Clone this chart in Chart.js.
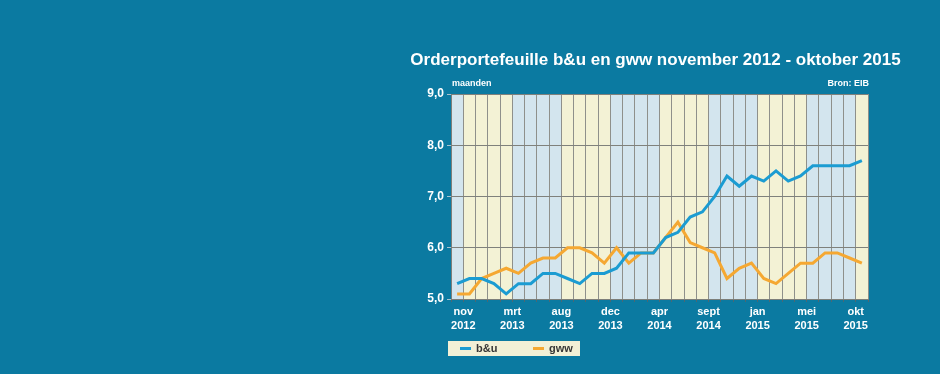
<!DOCTYPE html>
<html>
<head>
<meta charset="utf-8">
<title>Orderportefeuille b&amp;u en gww</title>
<script src="https://cdn.jsdelivr.net/npm/chart.js@4.4.1/dist/chart.umd.min.js"></script>
<style>
  html, body { margin: 0; padding: 0; background: #0b7aa1; }
  #wrap { width: 940px; height: 374px; position: relative; }
</style>
</head>
<body>
<div id="wrap"><canvas id="orderChart"></canvas></div>
<script>
const titleText = 'Orderportefeuille b&u en gww november 2012 - oktober 2015';
const unitText = 'maanden';
const sourceText = 'Bron: EIB';

// one value per grid column
const buValues = [5.3, 5.4, 5.4, 5.3, 5.1, 5.3, 5.3, 5.5, 5.5, 5.4,
                  5.3, 5.5, 5.5, 5.6, 5.9, 5.9, 5.9, 6.2, 6.3, 6.6,
                  6.7, 7.0, 7.4, 7.2, 7.4, 7.3, 7.5, 7.3, 7.4, 7.6,
                  7.6, 7.6, 7.6, 7.7];
const gwwValues = [5.1, 5.1, 5.4, 5.5, 5.6, 5.5, 5.7, 5.8, 5.8, 6.0,
                   6.0, 5.9, 5.7, 6.0, 5.7, 5.9, 5.9, 6.2, 6.5, 6.1,
                   6.0, 5.9, 5.4, 5.6, 5.7, 5.4, 5.3, 5.5, 5.7, 5.7,
                   5.9, 5.9, 5.8, 5.7];

// month labels sit on the column borders
const tickColumns = [1, 5, 9, 13, 17, 21, 25, 29, 33];
const tickMonths = ['nov', 'mrt', 'aug', 'dec', 'apr', 'sept', 'jan', 'mei', 'okt'];
const tickYears = ['2012', '2013', '2013', '2013', '2014', '2014', '2015', '2015', '2015'];
const yMin = 5;
const yMax = 9;

const buColor = '#1b9cd2';
const gwwColor = '#f5a832';
const bandBlue = '#d3e5ee';
const bandYellow = '#f3f2d5';
const legendFill = '#f2f0d6';
const fontFamily = '"Liberation Sans", Arial, sans-serif';

Chart.defaults.font.family = fontFamily;

// alternating blue / yellow bands behind the grid
const bandPlugin = {
  id: 'bands',
  beforeDraw(chart) {
    const { ctx, chartArea, scales } = chart;
    const edges = [0].concat(tickColumns, [buValues.length]);
    ctx.save();
    for (let i = 0; i < edges.length - 1; i++) {
      const x1 = scales.x.getPixelForValue(edges[i]);
      const x2 = scales.x.getPixelForValue(edges[i + 1]);
      ctx.fillStyle = i % 2 === 0 ? bandBlue : bandYellow;
      ctx.fillRect(x1, chartArea.top, x2 - x1, chartArea.bottom - chartArea.top);
    }
    ctx.restore();
  }
};

// title, small captions and the boxed legend
const textPlugin = {
  id: 'texts',
  afterDraw(chart) {
    const { ctx, chartArea } = chart;
    ctx.save();
    ctx.fillStyle = '#ffffff';
    ctx.textBaseline = 'alphabetic';

    ctx.font = 'bold 17px ' + fontFamily;
    ctx.textAlign = 'center';
    ctx.fillText(titleText, (chartArea.left + chartArea.right) / 2 - 4, chartArea.top - 29);

    ctx.font = 'bold 9px ' + fontFamily;
    ctx.textAlign = 'left';
    ctx.fillText(unitText, chartArea.left + 1, chartArea.top - 8);
    ctx.textAlign = 'right';
    ctx.fillText(sourceText, chartArea.right + 1, chartArea.top - 8);

    const lx = chartArea.left - 3;
    const ly = chartArea.bottom + 42;
    ctx.fillStyle = legendFill;
    ctx.fillRect(lx, ly, 132, 15);
    ctx.font = 'bold 11px ' + fontFamily;
    ctx.textAlign = 'left';
    ctx.textBaseline = 'middle';
    chart.data.datasets.forEach((ds, i) => {
      const x = lx + 12 + i * 73;
      ctx.strokeStyle = ds.borderColor;
      ctx.lineWidth = 3;
      ctx.beginPath();
      ctx.moveTo(x, ly + 7.5);
      ctx.lineTo(x + 11, ly + 7.5);
      ctx.stroke();
      ctx.fillStyle = '#363636';
      ctx.fillText(ds.label, x + 16, ly + 8);
    });
    ctx.restore();
  }
};

const ctx = document.getElementById('orderChart').getContext('2d');
const orderChart = new Chart(ctx, {
  type: 'line',
  data: {
    datasets: [
      {
        label: 'b&u',
        data: buValues.map((v, i) => ({ x: i + 0.5, y: v })),
        borderColor: buColor,
        borderWidth: 3,
        pointRadius: 0,
        tension: 0
      },
      {
        label: 'gww',
        data: gwwValues.map((v, i) => ({ x: i + 0.5, y: v })),
        borderColor: gwwColor,
        borderWidth: 3,
        pointRadius: 0,
        tension: 0
      }
    ]
  },
  options: {
    responsive: true,
    maintainAspectRatio: false,
    animation: false,
    layout: {
      padding: { left: 400, right: 72, top: 94, bottom: 0 }
    },
    plugins: {
      legend: { display: false },
      title: { display: false },
      tooltip: { enabled: false }
    },
    scales: {
      x: {
        type: 'linear',
        min: 0,
        max: buValues.length,
        afterFit: function (scale) { scale.height = 75; },
        ticks: {
          stepSize: 1,
          autoSkip: false,
          maxRotation: 0,
          maxTicksLimit: 100,
          padding: 3,
          color: '#ffffff',
          font: { size: 11, weight: 'bold', lineHeight: 1.27 },
          callback: function (value) {
            const i = tickColumns.indexOf(value);
            return i >= 0 ? [tickMonths[i], tickYears[i]] : '';
          }
        },
        grid: {
          color: '#8e908b',
          lineWidth: 1,
          tickLength: 3,
          tickColor: '#4f6670'
        },
        border: { color: '#7d7f7a' }
      },
      y: {
        min: yMin,
        max: yMax,
        afterFit: function (scale) { scale.width = 51; },
        ticks: {
          stepSize: 1,
          padding: 3,
          color: '#ffffff',
          font: { size: 12, weight: 'bold' },
          callback: function (value) {
            return value.toFixed(1).replace('.', ',');
          }
        },
        grid: {
          color: '#7f817c',
          lineWidth: 1,
          tickLength: 4,
          tickColor: '#a9c3cf'
        },
        border: { color: '#7d7f7a' }
      }
    }
  },
  plugins: [bandPlugin, textPlugin]
});
</script>
</body>
</html>
